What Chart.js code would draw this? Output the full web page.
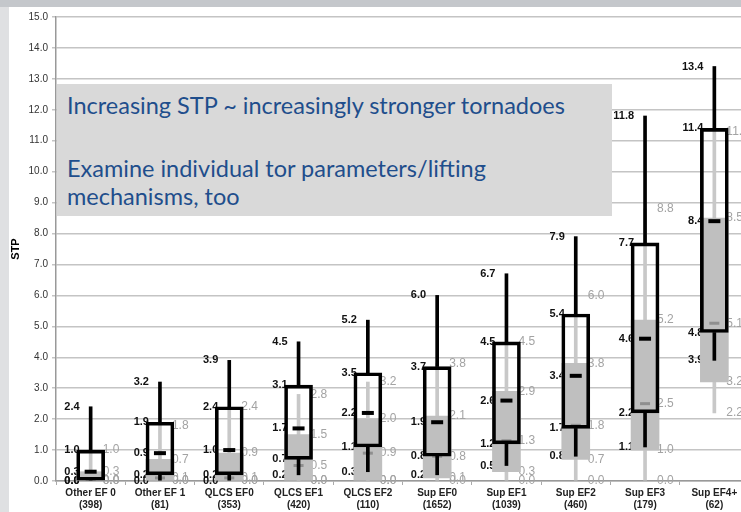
<!DOCTYPE html>
<html>
<head>
<meta charset="utf-8">
<script src="https://cdn.jsdelivr.net/npm/chart.js@4"></script>
<style>
html,body{margin:0;padding:0;}
body{width:741px;height:512px;overflow:hidden;position:relative;background:#dfe0e2;}
#topband{position:absolute;left:0;top:0;width:741px;height:7px;background:#c4c7cb;}
#wrap{position:absolute;left:9px;top:7px;width:750px;height:505px;background:#fff;}
#note{position:absolute;left:57px;top:84px;width:555px;height:132px;background:#d9d9d9;}
.line{position:absolute;left:10px;font-family:Lato;font-size:23.5px;line-height:24px;color:#1f4e8c;white-space:nowrap;}
</style>
</head>
<body>
<div id="topband"></div>
<div id="wrap"><canvas id="stpChart" width="750" height="505"></canvas></div>
<div id="note">
<div class="line" style="top:9px">Increasing STP ~ increasingly stronger tornadoes</div>
<div class="line" style="top:72px">Examine individual tor parameters/lifting</div>
<div class="line" style="top:100px">mechanisms, too</div>
</div>
<script>

const categories = ["Other EF 0","Other EF 1","QLCS EF0","QLCS EF1","QLCS EF2","Sup EF0","Sup EF1","Sup EF2","Sup EF3","Sup EF4+"]
const counts = [398,81,353,420,110,1652,1039,460,179,62]

// black boxes
const blackMin = [0.0,0.0,0.0,0.2,0.3,0.2,0.5,0.8,1.1,3.9]
const blackQ1  = [0.0,0.2,0.2,0.7,1.1,0.8,1.2,1.7,2.2,4.8]
const blackMed = [0.3,0.9,1.0,1.7,2.2,1.9,2.6,3.4,4.6,8.4]
const blackQ3  = [1.0,1.9,2.4,3.1,3.5,3.7,4.5,5.4,7.7,11.4]
const blackMax = [2.4,3.2,3.9,4.5,5.2,6.0,6.7,7.9,11.8,13.4]

// gray boxes
const grayMin = [0.0,0.0,0.0,0.0,0.0,0.0,0.0,0.0,0.0,2.2]
const grayQ1  = [0.0,0.0,0.0,0.0,0.0,0.1,0.3,0.7,1.0,3.2]
const grayMed = [0.0,0.1,0.1,0.5,0.9,0.8,1.3,1.8,2.5,5.1]
const grayQ3  = [0.3,0.7,0.9,1.5,2.0,2.1,2.9,3.8,5.2,8.5]
const grayMax = [1.0,1.8,2.4,2.8,3.2,3.8,4.5,6.0,8.8,11.3]

const yTicks = [0,1,2,3,4,5,6,7,8,9,10,11,12,13,14,15]

function pairs(lo,hi){
return lo.map((v,i)=>[v,hi[i]])
}

const boxLabels = {
id:'boxLabels',
beforeDatasetsDraw(chart){
const ctx = chart.ctx
const x = chart.scales.x, y = chart.scales.y
ctx.save()
ctx.textBaseline = 'middle'
categories.forEach((c,i)=>{
const cx = x.getPixelForValue(i)
ctx.font = 'bold 11px "Liberation Sans"'
ctx.fillStyle = '#111'
ctx.textAlign = 'right'
;[blackMin,blackQ1,blackMed,blackQ3,blackMax].forEach(arr=>{
ctx.fillText(arr[i].toFixed(1), cx-11, y.getPixelForValue(arr[i]))
})
ctx.font = '12px "Liberation Sans"'
ctx.fillStyle = '#a3a3a3'
ctx.textAlign = 'left'
;[grayMin,grayQ1,grayMed,grayQ3,grayMax].forEach(arr=>{
ctx.fillText(arr[i].toFixed(1), cx+12, y.getPixelForValue(arr[i]))
})
})
ctx.restore()
}
}

const ctx = document.getElementById("stpChart")

new Chart(ctx,{
type:'bar',
data:{
labels:categories.map((c,i)=>[c,'('+counts[i]+')']),
datasets:[
{label:'gray whisker',data:pairs(grayMin,grayMax),backgroundColor:'#c8c8c8',barThickness:3,grouped:false,order:9},
{label:'gray box',data:pairs(grayQ1,grayQ3),backgroundColor:'#bfbfbf',barThickness:28,grouped:false,order:8},
{type:'line',label:'gray median',data:grayMed,showLine:false,pointStyle:'line',pointRadius:5,pointBorderWidth:3,pointBorderColor:'#8f8f8f',order:7},
{label:'black box',data:pairs(blackQ1,blackQ3),backgroundColor:'rgba(0,0,0,0)',borderColor:'#000',borderWidth:3,borderSkipped:false,barThickness:28,grouped:false,order:6},
{label:'black low',data:pairs(blackMin,blackQ1),backgroundColor:'#000',barThickness:3,grouped:false,order:5},
{label:'black high',data:pairs(blackQ3,blackMax),backgroundColor:'#000',barThickness:3,grouped:false,order:5},
{type:'line',label:'black median',data:blackMed,showLine:false,pointStyle:'line',pointRadius:6,pointBorderWidth:4,pointBorderColor:'#000',order:1}
]
},
options:{
responsive:false,
animation:false,
events:[],
layout:{padding:{top:6,right:8,left:0,bottom:0}},
plugins:{legend:{display:false},tooltip:{enabled:false}},
scales:{
x:{
grid:{display:true,drawOnChartArea:false,drawTicks:true,tickLength:4,color:'#aaa',offset:true},
border:{color:'#999',width:1.5},
ticks:{autoSkip:false,maxRotation:0,padding:2,color:'#222',font:{family:'Liberation Sans',size:10,weight:'bold',lineHeight:1.2}},
afterFit:s=>{s.height=31}
},
y:{
min:0,max:15,
afterBuildTicks:s=>{s.ticks=yTicks.map(v=>({value:v}))},
grid:{color:'#c4c4c4',lineWidth:1.5,tickLength:4},
border:{color:'#999',width:1.5},
ticks:{padding:4,color:'#333',font:{family:'Liberation Sans',size:10},callback:v=>Number(v).toFixed(1)},
title:{display:true,text:'STP',color:'#000',font:{family:'Liberation Sans',size:11,weight:'bold'},padding:0},
afterFit:s=>{s.width=47}
}
}
},
plugins:[boxLabels]
})

</script>
</body>
</html>
